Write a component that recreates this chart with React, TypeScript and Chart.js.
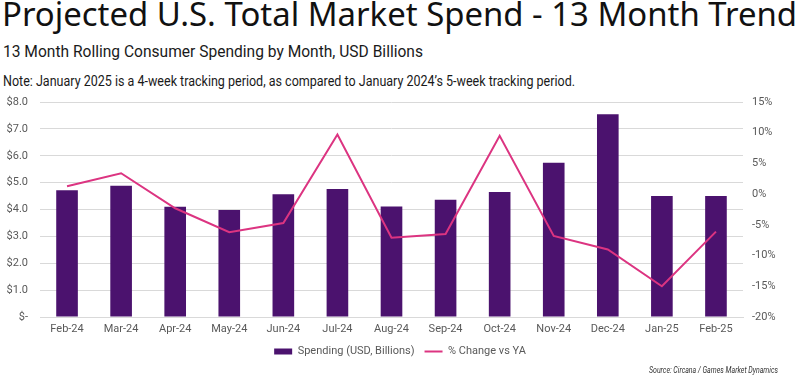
import React, { useEffect, useLayoutEffect, useRef } from 'react';
import { Chart, registerables } from 'chart.js';

Chart.register(...registerables);

const categories = ['Feb-24', 'Mar-24', 'Apr-24', 'May-24', 'Jun-24', 'Jul-24', 'Aug-24', 'Sep-24', 'Oct-24', 'Nov-24', 'Dec-24', 'Jan-25', 'Feb-25'];
const spending = [4.72, 4.88, 4.1, 3.98, 4.57, 4.76, 4.11, 4.36, 4.65, 5.74, 7.54, 4.5, 4.5];
const pctChange = [1.3, 3.4, -2.3, -6.2, -4.7, 9.7, -7.1, -6.5, 9.5, -6.8, -9.0, -15.0, -6.1];

const seriesNames = ['Spending (USD, Billions)', '% Change vs YA'];
const TITLE = 'Projected U.S. Total Market Spend - 13 Month Trend';
const SUBTITLE = '13 Month Rolling Consumer Spending by Month, USD Billions';
const NOTE = 'Note: January 2025 is a 4-week tracking period, as compared to January 2024\u2019s 5-week tracking period.';
const SOURCE = 'Source: Circana / Games Market Dynamics';

const BAR_COLOR = '#4B126E';
const LINE_COLOR = '#DC3481';
const GRID = '#D9D9D9';
const TICK = '#595959';
const NARROW = "Roboto, sans-serif";

type FitProps = { text: string; left: number; top: number; width: number; style: React.CSSProperties };

function FitText({ text, left, top, width, style }: FitProps) {
  const ref = useRef<HTMLDivElement>(null);
  useLayoutEffect(() => {
    const fit = () => {
      const el = ref.current;
      if (!el) return;
      el.style.transform = 'none';
      const w = el.getBoundingClientRect().width;
      if (w > 0) el.style.transform = `scaleX(${width / w})`;
    };
    fit();
    if ((document as any).fonts && (document as any).fonts.ready) {
      (document as any).fonts.ready.then(fit);
    }
  }, [text, width]);
  return (
    <div
      ref={ref}
      style={{
        position: 'absolute',
        left,
        top,
        whiteSpace: 'nowrap',
        display: 'inline-block',
        transformOrigin: '0 0',
        ...style,
      }}
    >
      {text}
    </div>
  );
}

export default function App() {
  const canvasRef = useRef<HTMLCanvasElement>(null);

  useEffect(() => {
    const canvas = canvasRef.current;
    if (!canvas) return;
    const chart = new Chart(canvas, {
      type: 'bar',
      data: {
        labels: categories,
        datasets: [
          {
            type: 'bar',
            label: seriesNames[0],
            data: spending,
            backgroundColor: BAR_COLOR,
            borderWidth: 0,
            yAxisID: 'y',
            order: 1,
            barPercentage: 0.4,
            categoryPercentage: 1,
            pointStyle: 'rect',
          } as any,
          {
            type: 'line',
            label: seriesNames[1],
            data: pctChange,
            borderColor: LINE_COLOR,
            backgroundColor: LINE_COLOR,
            borderWidth: 2,
            pointRadius: 0,
            tension: 0,
            yAxisID: 'y1',
            order: 0,
            pointStyle: 'line',
          } as any,
        ],
      },
      options: {
        animation: false,
        responsive: false,
        maintainAspectRatio: false,
        devicePixelRatio: 1,
        layout: { padding: { top: 12, left: 0, right: 0, bottom: 0 } },
        plugins: {
          legend: {
            position: 'bottom',
            labels: {
              usePointStyle: true,
              pointStyleWidth: 18,
              boxHeight: 6,
              padding: 10,
              color: TICK,
              font: { family: NARROW, size: 11 },
              sort: (a: any, b: any) => a.datasetIndex - b.datasetIndex,
            },
          },
          tooltip: { enabled: false },
        },
        scales: {
          x: {
            grid: { display: false, drawTicks: false },
            border: { display: true, color: GRID },
            ticks: { padding: 6, color: TICK, font: { family: NARROW, size: 11 }, maxRotation: 0 },
            afterFit: (s: any) => {
              s.height = 19;
            },
          },
          y: {
            position: 'left',
            min: 0,
            max: 8,
            ticks: {
              stepSize: 1,
              padding: 12,
              color: TICK,
              font: { family: NARROW, size: 11 },
              callback: (v: any) => (Number(v) === 0 ? '$-' : '$' + Number(v).toFixed(1)),
            },
            grid: { color: GRID, drawTicks: false },
            border: { display: false },
            afterFit: (s: any) => {
              s.width = 40;
              s.paddingTop = 6;
              s.paddingBottom = 6;
            },
          },
          y1: {
            position: 'right',
            min: -20,
            max: 15,
            ticks: {
              stepSize: 5,
              padding: 9,
              color: TICK,
              font: { family: NARROW, size: 11 },
              callback: (v: any) => v + '%',
            },
            grid: { display: false, drawTicks: false },
            border: { display: false },
            afterFit: (s: any) => {
              s.width = 57;
              s.paddingTop = 6;
              s.paddingBottom = 6;
            },
          },
        },
      } as any,
    });
    return () => chart.destroy();
  }, []);

  return (
    <div style={{ position: 'fixed', left: 0, top: 0, width: 800, height: 380, background: '#fff', overflow: 'hidden' }}>
      <FitText
        text={TITLE}
        left={2}
        top={-2}
        width={795}
        style={{ fontFamily: "'Noto Sans', sans-serif", fontSize: 32, lineHeight: '32px', color: '#111' }}
      />
      <FitText
        text={SUBTITLE}
        left={3}
        top={43}
        width={420}
        style={{ fontFamily: 'Roboto, sans-serif', fontSize: 17, lineHeight: '17px', color: '#1a1a1a' }}
      />
      <FitText
        text={NOTE}
        left={3}
        top={74}
        width={572}
        style={{ fontFamily: 'Roboto, sans-serif', fontSize: 14, lineHeight: '14px', color: '#1a1a1a' }}
      />
      <canvas ref={canvasRef} width={800} height={277} style={{ position: 'absolute', left: 0, top: 90, width: 800, height: 277 }} />
      <FitText
        text={SOURCE}
        left={649}
        top={366}
        width={129}
        style={{ fontFamily: 'Roboto, sans-serif', fontSize: 9, lineHeight: '9px', fontStyle: 'italic', color: '#333' }}
      />
    </div>
  );
}
